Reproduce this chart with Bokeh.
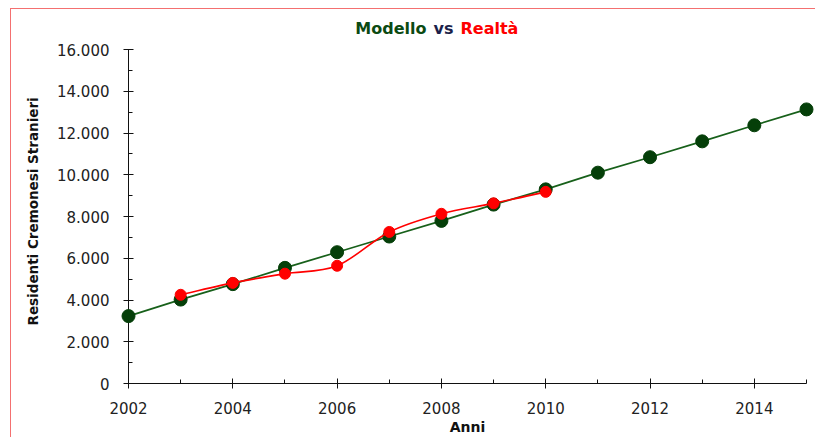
import math
from bokeh.plotting import figure
from bokeh.models import Range1d, FixedTicker, ColumnDataSource
from bokeh.core.properties import value
from bokeh.embed import file_html
from bokeh.resources import INLINE

# ---- data ----
years_model = [2002, 2003, 2004, 2005, 2006, 2007, 2008, 2009, 2010, 2011, 2012, 2013, 2014, 2015]
model = [3230, 4020, 4760, 5540, 6290, 7040, 7790, 8570, 9300, 10100, 10840, 11600, 12370, 13130]
years_real = [2003, 2004, 2005, 2006, 2007, 2008, 2009, 2010]
real = [4250, 4820, 5260, 5640, 7260, 8130, 8630, 9180]

y_ticks = [0, 2000, 4000, 6000, 8000, 10000, 12000, 14000, 16000]
y_tick_labels = ["0", "2.000", "4.000", "6.000", "8.000", "10.000", "12.000", "14.000", "16.000"]
y_minor = [1000, 3000, 5000, 7000, 9000, 11000, 13000, 15000]
x_ticks = [2002, 2004, 2006, 2008, 2010, 2012, 2014]
x_tick_labels = ["2002", "2004", "2006", "2008", "2010", "2012", "2014"]
x_minor = [2003, 2005, 2007, 2009, 2011, 2013, 2015]

title_parts = ["Modello", "vs", "Realtà"]
title_colors = ["#0b4a12", "#1b1f4a", "#ff0000"]
x_title = "Anni"
y_title = "Residenti Cremonesi Stranieri"

GREEN_LINE = "#17601a"
GREEN_DOT = "#053f09"
RED = "#ff0000"
FONT = "DejaVu Sans"

# page geometry (page pixel coordinates of the plot frame)
FRAME_L, FRAME_R, FRAME_T, FRAME_B = 128, 806, 49, 383
OX, OY = 11, 9          # canvas origin on the page (after margin + border)
W, H = 805, 429
X0, X1, Y0, Y1 = 2002, 2015, 0, 16000

p = figure(width=W, height=H, output_backend="svg", toolbar_location=None,
           x_range=Range1d(X0, X1), y_range=Range1d(Y0, Y1),
           min_border_left=FRAME_L - OX, min_border_right=W - (FRAME_R - OX),
           min_border_top=FRAME_T - OY, min_border_bottom=H - (FRAME_B - OY))
p.styles = {"margin-left": "10px", "margin-top": "8px",
            "border-top": "1px solid #f47070", "border-left": "1px solid #f47070"}
p.outline_line_color = None
p.grid.visible = False
p.background_fill_color = "white"
p.border_fill_color = "white"

# axes
p.yaxis.ticker = FixedTicker(ticks=y_ticks, minor_ticks=y_minor)
p.yaxis.major_label_overrides = {t: l for t, l in zip(y_ticks, y_tick_labels)}
p.xaxis.ticker = FixedTicker(ticks=x_ticks, minor_ticks=x_minor)
p.xaxis.major_label_overrides = {t: l for t, l in zip(x_ticks, x_tick_labels)}
for ax in (p.xaxis[0], p.yaxis[0]):
    ax.axis_line_color = "#111111"
    ax.major_tick_line_color = "#111111"
    ax.minor_tick_line_color = "#111111"
    ax.major_tick_in = 5
    ax.major_tick_out = 5
    ax.minor_tick_in = 4
    ax.minor_tick_out = 0
    ax.major_label_text_font = FONT
    ax.major_label_text_font_size = "15px"
    ax.major_label_text_color = "#222222"
p.yaxis.major_label_standoff = 14
p.xaxis.major_label_standoff = 13
p.xaxis.axis_label = x_title
p.xaxis.axis_label_text_font = FONT
p.xaxis.axis_label_text_font_style = "bold"
p.xaxis.axis_label_text_font_size = "14px"
p.xaxis.axis_label_text_color = "#111111"
p.xaxis.axis_label_standoff = 2

# model line
src_m = ColumnDataSource(dict(x=years_model, y=model))
p.line("x", "y", source=src_m, line_color=GREEN_LINE, line_width=1.7, level="overlay")
p.scatter("x", "y", source=src_m, size=13, fill_color=GREEN_DOT, line_color=GREEN_DOT, level="overlay")

# real: smooth curve (Catmull-Rom -> bezier) through the data points
n = len(years_real)
x0, y0, x1, y1, cx0, cy0, cx1, cy1 = [], [], [], [], [], [], [], []
for i in range(n - 1):
    xa, ya = years_real[i], real[i]
    xb, yb = years_real[i + 1], real[i + 1]
    xp, yp = (years_real[i - 1], real[i - 1]) if i > 0 else (xa, ya)
    xn, yn = (years_real[i + 2], real[i + 2]) if i + 2 < n else (xb, yb)
    x0.append(xa); y0.append(ya); x1.append(xb); y1.append(yb)
    cx0.append(xa + (xb - xp) / 6); cy0.append(ya + (yb - yp) / 6)
    cx1.append(xb - (xn - xa) / 6); cy1.append(yb - (yn - ya) / 6)
src_b = ColumnDataSource(dict(x0=x0, y0=y0, x1=x1, y1=y1, cx0=cx0, cy0=cy0, cx1=cx1, cy1=cy1))
p.bezier(x0="x0", y0="y0", x1="x1", y1="y1", cx0="cx0", cy0="cy0", cx1="cx1", cy1="cy1",
         source=src_b, line_color=RED, line_width=1.6, level="overlay")
src_r = ColumnDataSource(dict(x=years_real, y=real))
p.scatter("x", "y", source=src_r, size=11, fill_color=RED, line_color=RED, level="overlay")

# page pixel -> data coordinate helpers for placing the texts outside the frame
def dx(px):
    return X0 + (px - FRAME_L) * (X1 - X0) / (FRAME_R - FRAME_L)

def dy(py):
    return Y0 + (FRAME_B - py) * (Y1 - Y0) / (FRAME_B - FRAME_T)

# title in three colours
ty = dy(28)
src_t = ColumnDataSource(dict(x=[dx(426), dx(443), dx(460)], y=[ty, ty, ty], text=title_parts,
                              color=title_colors, align=["right", "center", "left"]))
p.text(x="x", y="y", text="text", source=src_t, text_color="color", text_align="align",
       text_baseline="middle", text_font=value(FONT), text_font_style="bold",
       text_font_size="16px", level="overlay")

# y axis title
src_y = ColumnDataSource(dict(x=[dx(32)], y=[dy(325)], text=[y_title]))
p.text(x="x", y="y", text="text", source=src_y, angle=math.pi / 2, text_align="left",
       text_baseline="middle", text_font=value(FONT), text_font_style="bold",
       text_font_size="13.5px", text_color="#111111", level="overlay")

open("out.html", "w").write(file_html(p, INLINE))
